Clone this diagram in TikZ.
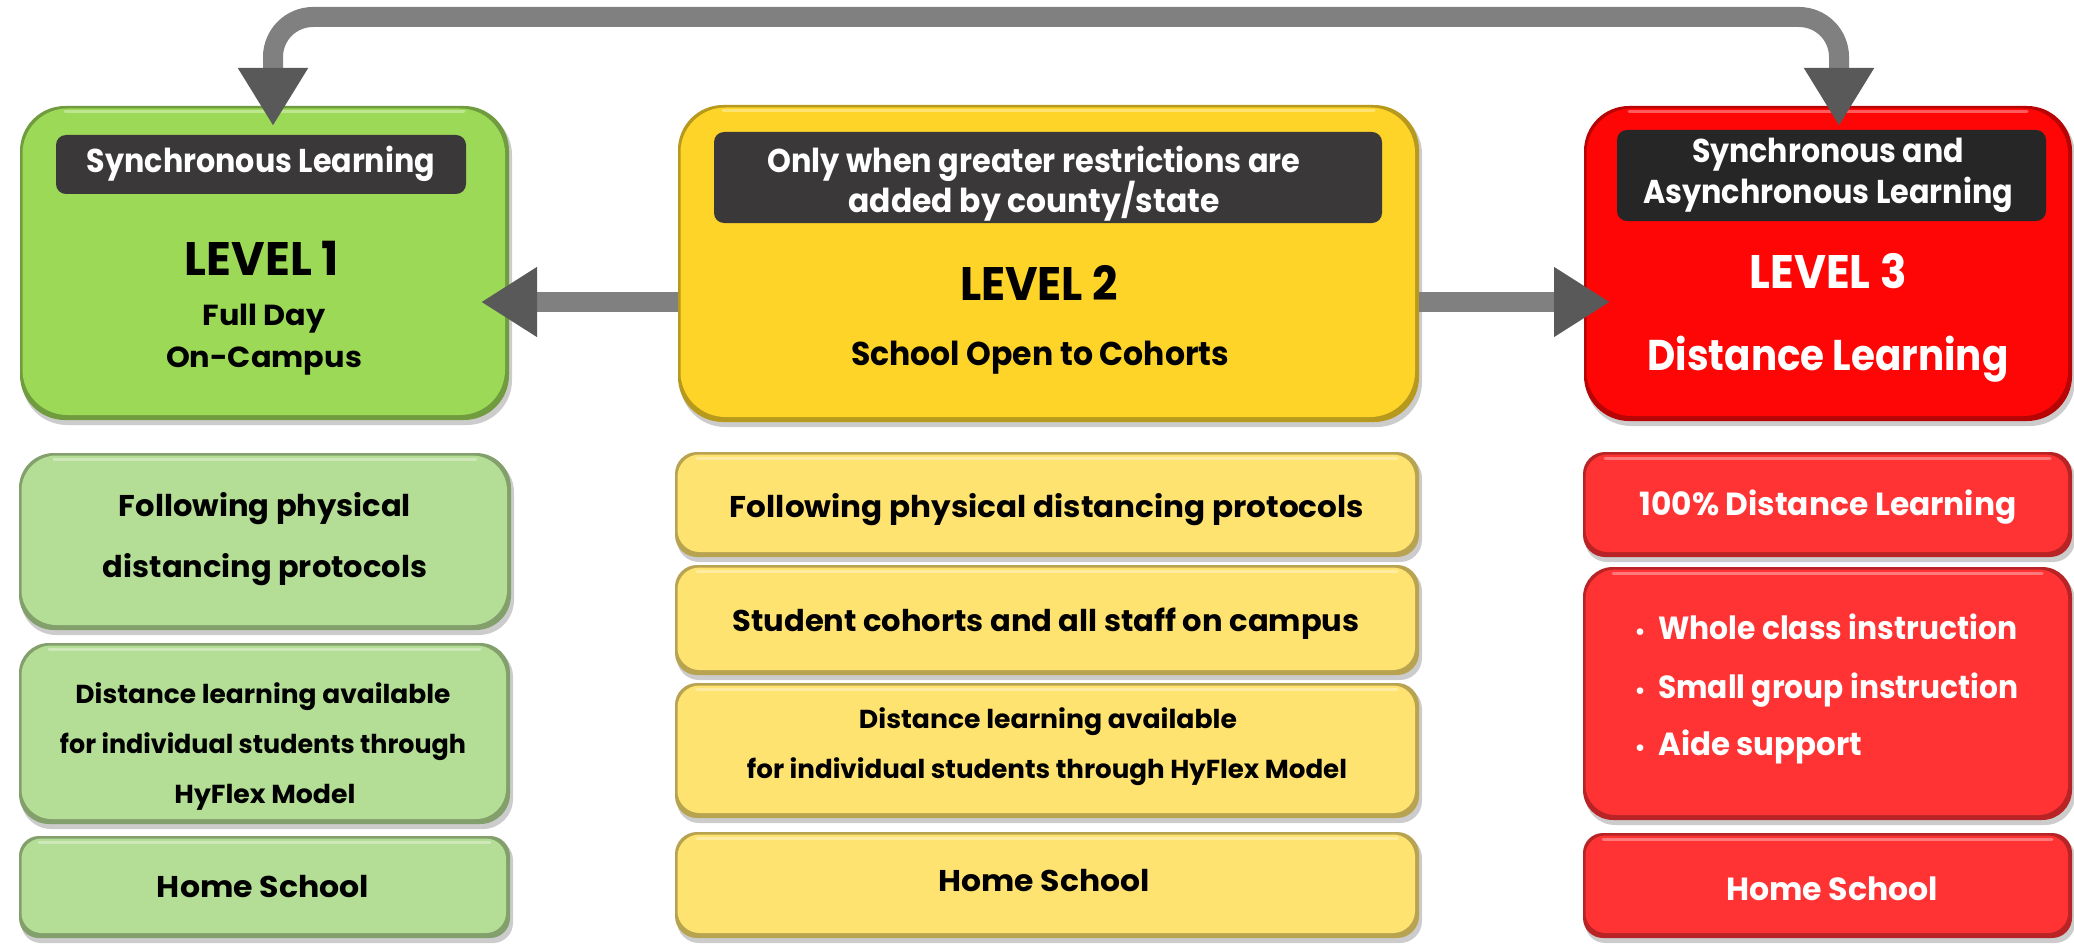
\documentclass[tikz,border=0pt]{standalone}
\usepackage{fontspec}
\setmainfont{Poppins}
\usepackage{graphicx}
\usetikzlibrary{arrows.meta,fit}
\definecolor{gTop}{RGB}{156,217,87}
\definecolor{gLow}{RGB}{180,221,150}
\definecolor{yTop}{RGB}{254,212,40}
\definecolor{yLow}{RGB}{255,227,112}
\definecolor{rTop}{RGB}{254,6,6}
\definecolor{rLow}{RGB}{255,50,52}
\definecolor{lblA}{RGB}{58,56,56}
\definecolor{lblB}{RGB}{38,38,38}
\definecolor{arrowGray}{RGB}{128,128,128}
\definecolor{arrowDark}{RGB}{89,89,89}
\newcommand\fitw[2]{\resizebox{#1pt}{\height}{#2}}
% name, x1, y1, x2, y2, colour, radius
\newcommand\panel[7]{%
  \fill[black,opacity=.2,rounded corners=#7pt] (#2+2,#3+4) rectangle (#4+3,#5+5);
  \fill[#6!72!black,rounded corners=#7pt] (#2,#3) rectangle (#4,#5);
  \fill[#6,rounded corners=#7pt] (#2+2.5,#3+2.5) rectangle (#4-4,#5-5);
  \draw[white,opacity=.35,line width=3pt,line cap=round] (#2+#7,#3+6) -- (#4-#7,#3+6);
  \node[fit={(#2,#3) (#4,#5)},inner sep=0pt] (#1) {};
}
\tikzset{
  txt/.style={inner sep=0pt,anchor=base},
  wt/.style={text=white},
  f26/.style={font=\bfseries\fontsize{26}{30}\selectfont},
  f29/.style={font=\bfseries\fontsize{29}{34}\selectfont},
  f30/.style={font=\bfseries\fontsize{30}{36}\selectfont},
  f32/.style={font=\bfseries\fontsize{32}{38}\selectfont},
  f33/.style={font=\bfseries\fontsize{33}{38}\selectfont},
  f43/.style={font=\bfseries\fontsize{43}{50}\selectfont},
  f47/.style={font=\bfseries\fontsize{47}{54}\selectfont},
  lbl/.style={fill=#1,rounded corners=10pt,inner sep=0pt},
  conn/.style={draw=arrowGray,line width=20pt},
  headend/.style={-{Triangle[width=66pt,length=56pt,color=arrowDark]}},
  headboth/.style={{Triangle[width=66pt,length=58pt,color=arrowDark]}-{Triangle[width=66pt,length=58pt,color=arrowDark]}}
}
\begin{document}
\begin{tikzpicture}[x=1pt,y=-1pt]
\useasboundingbox (0,0) rectangle (2074,944);
\fill[white] (0,0) rectangle (2074,944);

% top level boxes
\panel{L1}{20}{106}{509}{420}{gTop}{45}
\panel{L2}{678}{105}{1419}{422}{yTop}{45}
\panel{L3}{1584}{106}{2072}{421}{rTop}{45}

% lower boxes
\panel{G1}{19}{453}{511}{630}{gLow}{35}
\panel{G2}{19}{643}{510}{824}{gLow}{30}
\panel{G3}{19}{836}{510}{938}{gLow}{20}
\panel{Y1}{675}{452}{1419}{557}{yLow}{22}
\panel{Y2}{675}{565}{1419}{675}{yLow}{22}
\panel{Y3}{675}{683}{1419}{818}{yLow}{22}
\panel{Y4}{675}{832}{1419}{938}{yLow}{22}
\panel{R1}{1583}{452}{2072}{557}{rLow}{22}
\panel{R2}{1583}{567}{2072}{820}{rLow}{30}
\panel{R3}{1583}{833}{2072}{938}{rLow}{20}

% dark labels
\node[lbl=lblA,fit={(56,135) (466,194)}] (S1) {};
\node[lbl=lblA,fit={(714,132) (1382,223)}] (S2) {};
\node[lbl=lblB,fit={(1617,130) (2046,221)}] (S3) {};

% level 1 texts
\node[txt,wt,f33] (s1t) at (261,173) {\fitw{348}{Synchronous Learning}};
\node[txt,f47] (l1t) at (262,275) {\fitw{154}{LEVEL 1}};
\node[txt,f29] (l1a) at (264,325) {\fitw{123}{Full Day}};
\node[txt,f29] (l1b) at (264,367) {\fitw{196}{On-Campus}};

% level 2 texts
\node[txt,wt,f33] (s2a) at (1034,172) {\fitw{533}{Only when greater restrictions are}};
\node[txt,wt,f33] (s2b) at (1034,212) {\fitw{371}{added by county/state}};
\node[txt,f47] (l2t) at (1039,300) {\fitw{158}{LEVEL 2}};
\node[txt,f33] (l2a) at (1040,365) {\fitw{378}{School Open to Cohorts}};

% level 3 texts
\node[txt,wt,f33] (s3a) at (1828,163) {\fitw{272}{Synchronous and}};
\node[txt,wt,f33] (s3b) at (1828,204) {\fitw{370}{Asynchronous Learning}};
\node[txt,wt,f47] (l3t) at (1828,288) {\fitw{157}{LEVEL 3}};
\node[txt,wt,f43] (l3a) at (1828,370) {\fitw{361}{Distance Learning}};

% green column
\node[txt,f30] (g1a) at (265,516) {\fitw{292}{Following physical}};
\node[txt,f30] (g1b) at (265,577) {\fitw{324}{distancing protocols}};
\node[txt,f26] (g2a) at (263,703) {\fitw{375}{Distance learning available}};
\node[txt,f26] (g2b) at (263,753) {\fitw{406}{for individual students through}};
\node[txt,f26] (g2c) at (265,803) {\fitw{181}{HyFlex Model}};
\node[txt,f30] (g3a) at (263,897) {\fitw{212}{Home School}};

% yellow column
\node[txt,f30] (y1a) at (1047,517) {\fitw{634}{Following physical distancing protocols}};
\node[txt,f30] (y2a) at (1046,631) {\fitw{627}{Student cohorts and all staff on campus}};
\node[txt,f26] (y3a) at (1048,728) {\fitw{378}{Distance learning available}};
\node[txt,f26] (y3b) at (1047,778) {\fitw{600}{for individual students through HyFlex Model}};
\node[txt,f30] (y4a) at (1044,891) {\fitw{211}{Home School}};

% red column
\node[txt,wt,f32] (r1a) at (1828,515) {\fitw{377}{100\% Distance Learning}};
\node[txt,wt,f32,anchor=base west] (r2a) at (1658,639) {\llap{\makebox[36pt][c]{\fontsize{22}{22}\selectfont •}}\fitw{359}{Whole class instruction}};
\node[txt,wt,f32,anchor=base west] (r2b) at (1658,698) {\llap{\makebox[36pt][c]{\fontsize{22}{22}\selectfont •}}\fitw{360}{Small group instruction}};
\node[txt,wt,f32,anchor=base west] (r2c) at (1658,755) {\llap{\makebox[36pt][c]{\fontsize{22}{22}\selectfont •}}\fitw{204}{Aide support}};
\node[txt,wt,f32] (r3a) at (1832,900) {\fitw{212}{Home School}};

% connectors
\coordinate (aL) at (273,126);
\coordinate (aR) at (1839,126);
\coordinate (topY) at (0,17);
\coordinate (hL) at (481,302);
\coordinate (hR) at (1610,302);
\draw[conn,headboth,rounded corners=40pt] (aL) -- (aL |- topY) -- (aR |- topY) -- (aR);
\draw[conn,headend] (L2.west |- hL) -- (hL);
\draw[conn,headend] (L2.east |- hR) -- (hR);
\end{tikzpicture}
\end{document}
